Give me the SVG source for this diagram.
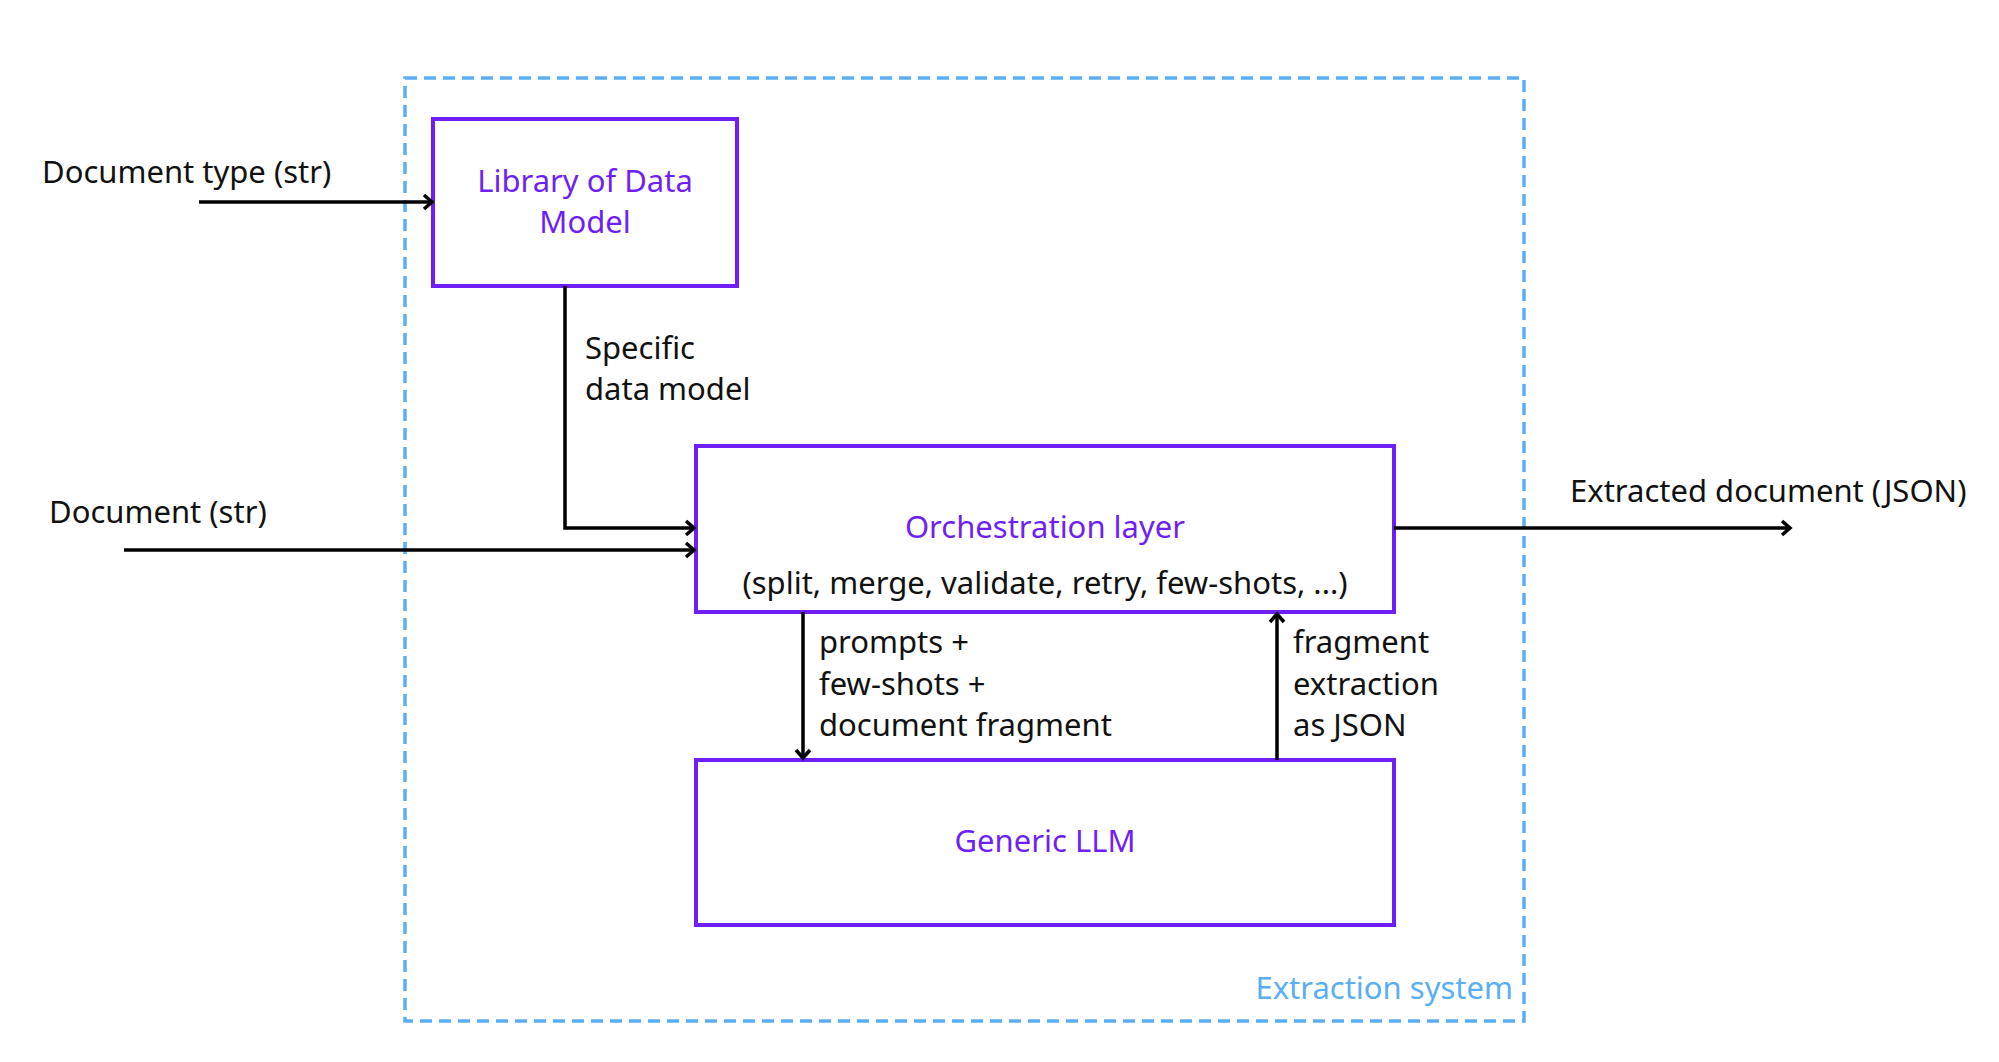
<svg xmlns="http://www.w3.org/2000/svg" width="1999" height="1062" viewBox="0 0 1999 1062">
<style>
text{font-family:"Noto Sans","Liberation Sans",sans-serif;font-size:31px;fill:#111}
.n{fill:#fff;stroke:#6f1ff5;stroke-width:4}
.nt{fill:#6f1ff5;text-anchor:middle}
.c{stroke:#000;stroke-width:3.5;fill:none;marker-end:url(#a)}
</style>
<defs><marker id="a" markerWidth="14" markerHeight="18" refX="11" refY="9" orient="auto" markerUnits="userSpaceOnUse"><path d="M3,2 L11,9 L3,16" fill="none" stroke="#000" stroke-width="3.5"/></marker></defs>
<rect width="1999" height="1062" fill="#fff"/>
<g id="system"><rect x="405" y="78" width="1119" height="943" fill="none" stroke="#5aaef5" stroke-width="3.5" stroke-dasharray="12,7"/>
<text x="1513" y="999" style="fill:#5aaef5;text-anchor:end">Extraction system</text></g>
<g id="library"><rect class="n" x="433" y="119" width="304" height="167"/>
<text class="nt" x="585" y="192">Library of Data</text><text class="nt" x="585" y="233">Model</text></g>
<g id="orchestration"><rect class="n" x="696" y="446" width="698" height="166"/>
<text class="nt" x="1045" y="538">Orchestration layer</text>
<text x="1045" y="594" style="text-anchor:middle">(split, merge, validate, retry, few-shots, ...)</text></g>
<g id="llm"><rect class="n" x="696" y="760" width="698" height="165"/>
<text class="nt" x="1045" y="852">Generic LLM</text></g>
<g id="connectors">
<path class="c" d="M199,202 H432"/>
<path class="c" d="M565,286 V528 H694"/>
<path class="c" d="M124,550 H694"/>
<path class="c" d="M1394,528 H1790"/>
<path class="c" d="M803,612 V758"/>
<path class="c" d="M1277,760 V614"/>
</g>
<g id="labels">
<text x="42" y="183">Document type (str)</text>
<text x="49" y="523">Document (str)</text>
<text x="585" y="359">Specific</text><text x="585" y="400">data model</text>
<text x="1570" y="502">Extracted document (JSON)</text>
<text x="819" y="653">prompts +</text><text x="819" y="695">few-shots +</text><text x="819" y="736">document fragment</text>
<text x="1293" y="653">fragment</text><text x="1293" y="695">extraction</text><text x="1293" y="736">as JSON</text>
</g>
</svg>
